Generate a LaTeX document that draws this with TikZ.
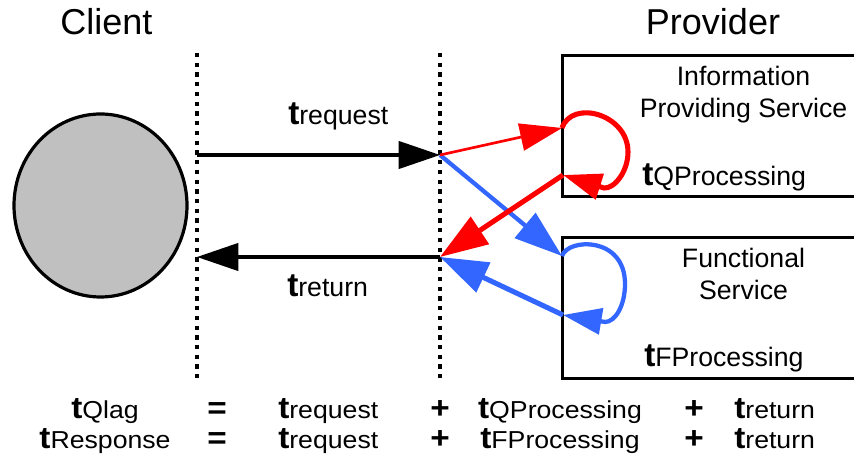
\documentclass[tikz,border=0pt]{standalone}
\usepackage{fontspec}
\setmainfont{Liberation Sans}
\usepackage{graphicx}
\usetikzlibrary{arrows.meta,shapes.geometric}

% bold "t" followed by the name of the time component
\newcommand{\tlab}[1]{{\fontsize{25}{25}\selectfont\bfseries t}{\fontsize{20}{24}\selectfont #1}}
% slightly flattened text for the two summary equations
\newcommand{\squashed}[1]{\scalebox{1}[0.92]{#1}}

\definecolor{qred}{RGB}{255,0,0}
\definecolor{fblue}{RGB}{51,102,255}
\definecolor{clientgray}{RGB}{192,192,192}

\begin{document}
\begin{tikzpicture}[x=0.75pt,y=0.75pt,
  lbl/.style={inner sep=0pt, font=\fontsize{20}{24}\selectfont},
  head/.style={inner sep=0pt, font=\fontsize{27}{32}\selectfont},
  opsym/.style={inner sep=0pt, font=\fontsize{25}{28}\selectfont\bfseries},
  divider/.style={line width=2.4pt, dash pattern=on 3.2pt off 4.1pt},
  msg/.style={line width=2.4pt, -{Triangle[length=31pt,width=20.5pt]}},
  tipsmall/.style={-{Triangle[length=29pt,width=19.5pt]}},
  tipmid/.style={-{Triangle[length=31.5pt,width=20.5pt]}},
  tipbig/.style={-{Triangle[length=36pt,width=24pt]}},
  svc/.style={draw, line width=2.4pt, rectangle, minimum width=232pt,
              minimum height=105.75pt, anchor=north west, inner sep=0pt},
]
\fill[white] (0,0) rectangle (854,456);
\useasboundingbox (0,0) rectangle (854,456);
\clip (0,0) rectangle (854,456);

% headings
\node[head, anchor=base] (clientLbl) at (106.5,421) {Client};
\node[head, anchor=base] (providerLbl) at (713,421) {Provider};

% client
\node[ellipse, draw, line width=2.4pt, fill=clientgray, inner sep=0pt,
      minimum width=129.75pt, minimum height=137.25pt] (client) at (100.5,250.5) {};

% boundaries
\coordinate (d1top) at (197,403);
\coordinate (d1bot) at (197,77);
\coordinate (d2top) at (440,403);
\coordinate (d2bot) at (440,77);
\draw[divider] (d1top) -- (d1bot);
\draw[divider] (d2top) -- (d2bot);

% services
\node[svc] (ips) at (561,402) {};
\node[svc] (fs) at (561,220) {};

% connection points
\coordinate (reqS) at (197,301);
\coordinate (reqE) at (440,301);
\coordinate (retS) at (440,199);
\coordinate (retE) at (197,199);
\coordinate (qIn) at (562,328);
\coordinate (qOut) at (563,281);
\coordinate (fIn) at (562,200);
\coordinate (fOut) at (563,141);

% request and return
\draw[msg] (reqS) -- (reqE);
\draw[msg] (retS) -- (retE);

% functional service path
\draw[fblue, line width=3.2pt, tipbig] (reqE) -- (fIn);
\draw[fblue, line width=3.2pt, tipsmall] (fIn) .. controls (568,218) and (625,220) .. (625,172)
      .. controls (625,150) and (615,134) .. (605,134) -- (fOut);
\draw[fblue, line width=3.8pt, tipbig] (fOut) -- (retS);

% information providing service path
\draw[qred, line width=2pt, tipmid] (reqE) -- (qIn);
\draw[qred, line width=3.8pt, tipsmall] (qIn) .. controls (572,357) and (628,342) .. (628,304)
      .. controls (628,284) and (614,267) .. (604,268) -- (qOut);
\draw[qred, line width=3.8pt, tipbig] (qOut) -- (retS);

% labels
\node[lbl, anchor=base west] (treq) at (288,331) {\tlab{request}};
\node[lbl, anchor=base west] (tret) at (287,159) {\tlab{return}};
\node[lbl, anchor=base] (info1) at (743.5,370) {Information};
\node[lbl, anchor=base] (info2) at (743.5,338) {Providing Service};
\node[lbl, anchor=base west] (tq) at (642,270) {\tlab{QProcessing}};
\node[lbl, anchor=base] (fs1) at (743.5,188) {Functional};
\node[lbl, anchor=base] (fs2) at (743.5,156) {Service};
\node[lbl, anchor=base west] (tf) at (644,89) {\tlab{FProcessing}};

% summary equations
\node[lbl, anchor=base] (lagL) at (105,37) {\squashed{\tlab{Qlag}}};
\node[opsym, anchor=base] (lagEq) at (217,37) {\squashed{=}};
\node[lbl, anchor=base west] (lagReq) at (278,37) {\squashed{\tlab{request}}};
\node[opsym, anchor=base] (lagP1) at (440,37) {\squashed{+}};
\node[lbl, anchor=base] (lagQ) at (560,37) {\squashed{\tlab{QProcessing}}};
\node[opsym, anchor=base] (lagP2) at (694,37) {\squashed{+}};
\node[lbl, anchor=base west] (lagRet) at (734,37) {\squashed{\tlab{return}}};

\node[lbl, anchor=base] (resL) at (105,7) {\squashed{\tlab{Response}}};
\node[opsym, anchor=base] (resEq) at (217,7) {\squashed{=}};
\node[lbl, anchor=base west] (resReq) at (278,7) {\squashed{\tlab{request}}};
\node[opsym, anchor=base] (resP1) at (440,7) {\squashed{+}};
\node[lbl, anchor=base] (resF) at (560,7) {\squashed{\tlab{FProcessing}}};
\node[opsym, anchor=base] (resP2) at (694,7) {\squashed{+}};
\node[lbl, anchor=base west] (resRet) at (734,7) {\squashed{\tlab{return}}};
\end{tikzpicture}
\end{document}
